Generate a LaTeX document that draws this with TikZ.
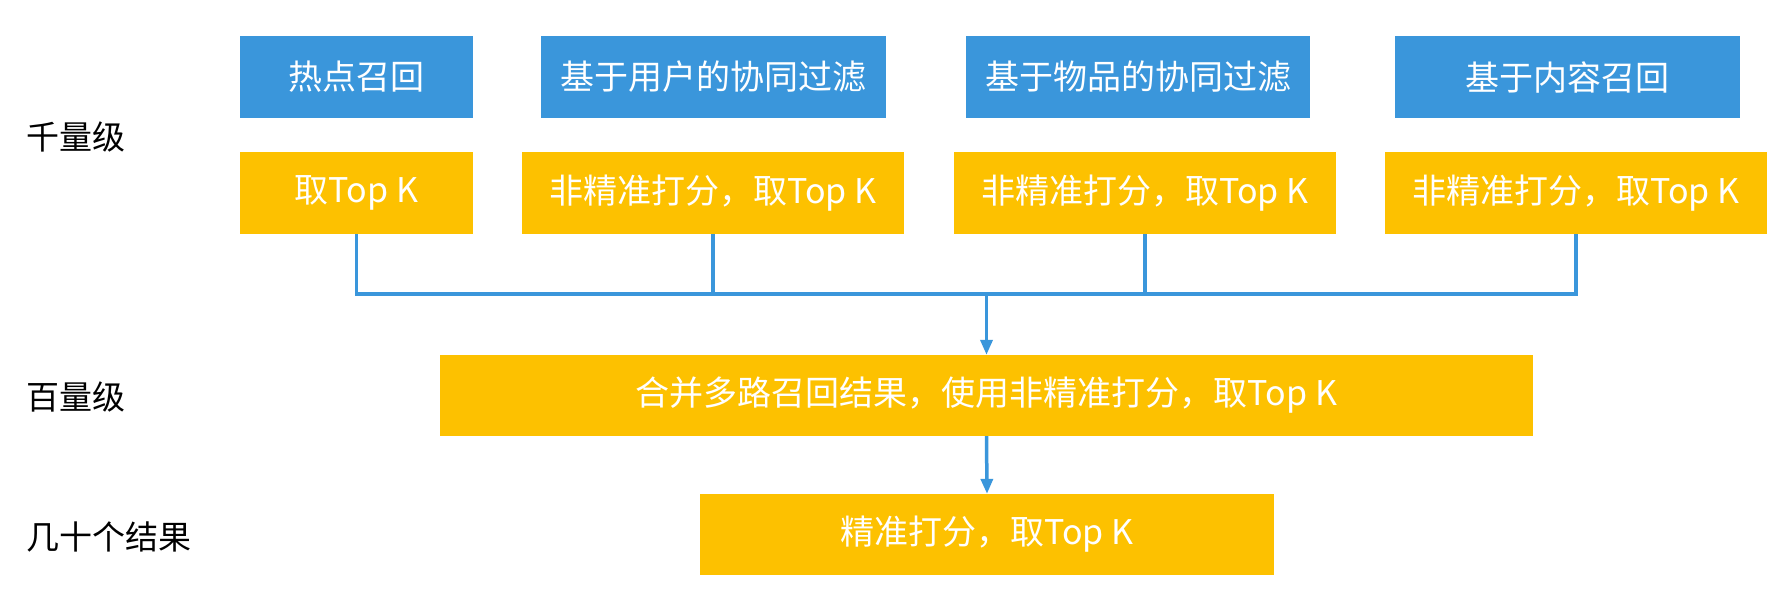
\documentclass[tikz,border=0pt]{standalone}
\usepackage{fontspec}
\setmainfont{Noto Sans CJK SC}
\usetikzlibrary{arrows.meta}
\definecolor{recblue}{HTML}{3A96DB}
\definecolor{recorange}{HTML}{FDC100}

\begin{document}
\begin{tikzpicture}[x=1pt, y=-1pt,
        recall/.style={fill=recblue, text=white, inner sep=0pt, minimum height=82pt, font=\fontsize{34}{40}\selectfont},
        score/.style={recall, fill=recorange},
        level/.style={anchor=west, inner sep=0pt, font=\fontsize{33}{40}\selectfont},
        flow/.style={draw=recblue, line width=3.5pt}]
                        \useasboundingbox (0, 0) rectangle (1782, 610);
                        % levels
                        \node[level] (lv1) at (26, 137){千量级};
                        \node[level] (lv2) at (26, 397){百量级};
                        \node[level] (lv3) at (26, 537){几十个结果};
                        % recall channels
                        \node[recall, minimum width=233pt] (r1) at (356.5, 77){热点召回};
                        \node[recall, minimum width=345pt] (r2) at (713.5, 77){基于用户的协同过滤};
                        \node[recall, minimum width=344pt] (r3) at (1138, 77){基于物品的协同过滤};
                        \node[recall, minimum width=345pt] (r4) at (1567.5, 77){基于内容召回};
                        \node[score, minimum width=233pt] (s1) at (356.5, 193){取Top K};
                        \node[score, minimum width=382pt] (s2) at (713, 193){非精准打分，取Top K};
                        \node[score, minimum width=382pt] (s3) at (1145, 193){非精准打分，取Top K};
                        \node[score, minimum width=382pt] (s4) at (1576, 193){非精准打分，取Top K};
                        % merge and rank
                        \node[score, minimum width=1093pt, minimum height=81pt] (merge) at (986.5, 395.5){合并多路召回结果，使用非精准打分，取Top K};
                        \node[score, minimum width=574pt, minimum height=81pt] (rank) at (987, 534.5){精准打分，取Top K};
                        \coordinate (join) at (986.5, 294);
                        \draw[flow] (s1.south) |- (join) -| (s4.south);
                        \draw[flow] (s2.south) -- (s2.south |- join);
                        \draw[flow] (s3.south) -- (s3.south |- join);
                        \draw[flow, -{Triangle[length=15pt, width=12pt]}] (join) -- (merge.north);
                        \draw[flow, -{Triangle[length=15pt, width=12pt]}] (merge.south) -- (rank.north);
                \end{tikzpicture}
\end{document}
